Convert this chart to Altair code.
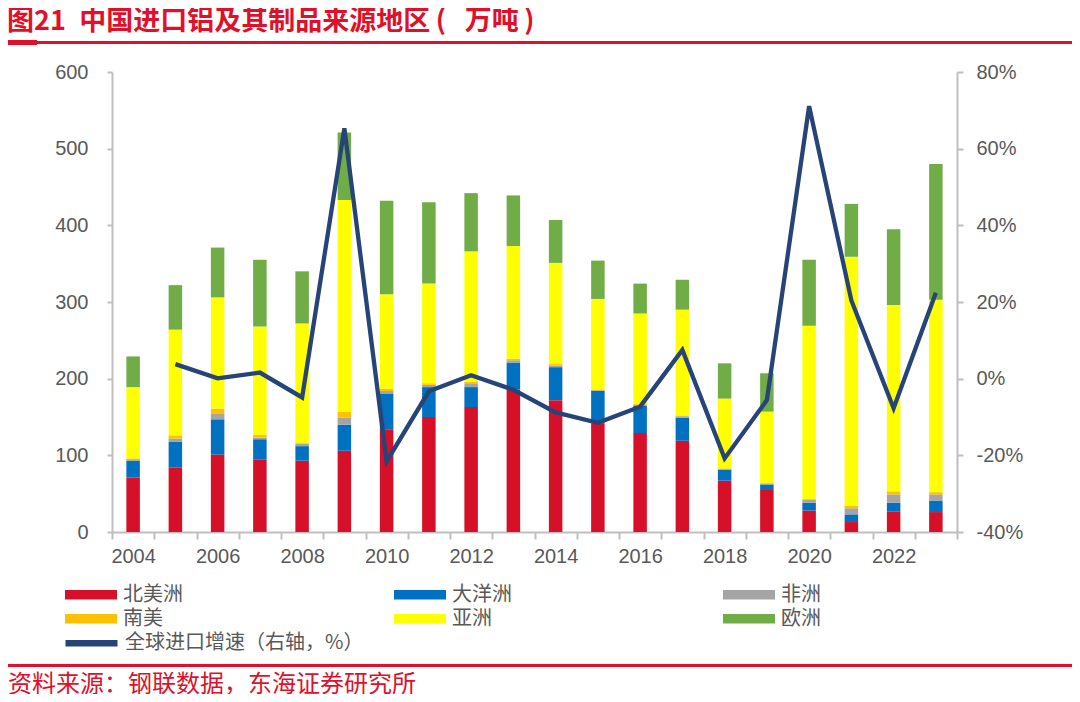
import altair as alt
import pandas as pd

years = list(range(2004, 2024))
regions = ["北美洲", "大洋洲", "非洲", "南美", "亚洲", "欧洲"]
region_colors = ["#D7102A", "#0070C0", "#A5A5A5", "#FFC000", "#FFFF00", "#70AD47"]

north_america = [71, 84, 101, 95, 93, 106, 134, 150, 163, 186, 172, 141, 129, 119, 67, 56, 28, 13, 27, 26]
oceania = [22, 34, 46, 26, 19, 34, 46, 39, 26, 35, 43, 43, 36, 30, 14, 6, 10, 10, 11, 15]
africa = [2, 4, 7, 2, 3, 9, 4, 3, 5, 3, 2, 1, 1, 2, 1, 1, 4, 8, 11, 8]
south_america = [1, 4, 7, 4, 1, 8, 3, 2, 2, 2, 2, 1, 1, 1, 1, 1, 1, 3, 4, 3]
asia = [93, 138, 145, 141, 156, 276, 123, 130, 170, 147, 132, 118, 118, 138, 91, 93, 226, 325, 243, 251]
europe = [40, 58, 65, 87, 68, 88, 122, 106, 76, 66, 56, 50, 39, 39, 46, 50, 86, 69, 99, 177]

growth_years = list(range(2005, 2024))
growth = [3.8, 0.1, 1.6, -4.9, 65.3, -21.6, -3.3, 0.9, -2.9, -8.8, -11.5, -7.3, 7.5, -20.8, -5.6, 71.1, 20.4, -7.7, 22.4]
growth_name = "全球进口增速（右轴，%）"

left_ticks = [0, 100, 200, 300, 400, 500, 600]
right_ticks = [-40, -20, 0, 20, 40, 60, 80]

TITLE = "图21\u2002中国进口铝及其制品来源地区\u2009(\u2002\u2009万吨\u2009)"
SOURCE = "资料来源：钢联数据，东海证券研究所"

series = [north_america, oceania, africa, south_america, asia, europe]
rows = []
for idx, (name, vals) in enumerate(zip(regions, series)):
    for y, v in zip(years, vals):
        rows.append({"year": y, "region": name, "value": v, "idx": idx})
df = pd.DataFrame(rows)
gdf = pd.DataFrame({"year": growth_years, "growth": growth, "s": [growth_name] * len(growth)})

GREY = "#BFBFBF"
LABEL = "#595959"
RED = "#E0102A"
CJK = "Noto Sans CJK SC"

x_enc = alt.X(
    "year:O",
    scale=alt.Scale(domain=years, paddingInner=0, paddingOuter=0),
    axis=alt.Axis(
        title=None, labelAngle=0, tickBand="extent",
        labelExpr="datum.value % 2 == 0 ? datum.label : ''",
        tickSize=7, labelPadding=7,
    ),
)

bars = alt.Chart(df).mark_bar(size=13.5).encode(
    x=x_enc,
    y=alt.Y("value:Q", stack="zero",
            scale=alt.Scale(domain=[0, 600], nice=False),
            axis=alt.Axis(title=None, values=left_ticks, tickSize=5, labelPadding=19)),
    color=alt.Color("region:N",
                    scale=alt.Scale(domain=regions, range=region_colors),
                    legend=alt.Legend(
                        title=None, orient="none", legendX=-47, legendY=512.7,
                        direction="horizontal",
                        columns=3, gridAlign="all", columnPadding=211,
                        symbolType="M-1,-0.18H1V0.18H-1Z", symbolSize=2704,
                        symbolStrokeWidth=0, clipHeight=20, rowPadding=4,
                        labelOffset=6, labelFontSize=20, labelFont=CJK,
                        labelColor=LABEL, padding=0)),
    order=alt.Order("idx:Q", sort="ascending"),
)

line = alt.Chart(gdf).mark_line(strokeWidth=4.3).encode(
    x=x_enc,
    y=alt.Y("growth:Q",
            scale=alt.Scale(domain=[-40, 80], nice=False),
            axis=alt.Axis(title=None, orient="right", values=right_ticks,
                          labelExpr="datum.value + '%'", tickSize=6, labelPadding=13)),
    stroke=alt.Stroke("s:N", scale=alt.Scale(domain=[growth_name], range=["#264478"]),
                      legend=alt.Legend(
                          title=None, orient="none", legendX=-50, legendY=561.3,
                          columns=1, symbolType="stroke", symbolSize=2704,
                          symbolStrokeWidth=6.5, clipHeight=20, labelLimit=500,
                          labelOffset=4, labelFontSize=20, labelFont=CJK,
                          labelColor=LABEL, padding=0)),
)

title_text = alt.Chart(pd.DataFrame({"t": [TITLE]})).mark_text(
    align="left", baseline="middle", fontSize=27, fontWeight="bold", color=RED, font=CJK
).encode(x=alt.value(-105), y=alt.value(-50.5), text="t:N")

source_text = alt.Chart(pd.DataFrame({"t": [SOURCE]})).mark_text(
    align="left", baseline="middle", fontSize=24, color=RED, font=CJK
).encode(x=alt.value(-104), y=alt.value(613), text="t:N")

one = pd.DataFrame({"a": [0]})
top_rule = alt.Chart(one).mark_rule(color=RED, strokeWidth=2.8).encode(
    x=alt.value(-107), x2=alt.value(963), y=alt.value(-29.5))
top_rule_l = alt.Chart(one).mark_rule(color=RED, strokeWidth=5).encode(
    x=alt.value(-107), x2=alt.value(-75), y=alt.value(-29.5))
bot_rule = alt.Chart(one).mark_rule(color=RED, strokeWidth=3).encode(
    x=alt.value(-105), x2=alt.value(965), y=alt.value(593.5))

chart = alt.layer(
    bars, line, title_text, source_text, top_rule, top_rule_l, bot_rule
).resolve_scale(
    y="independent"
).properties(
    width=845, height=460,
    padding={"left": 104, "top": 64, "right": 115, "bottom": 162},
    autosize=alt.AutoSizeParams(type="none"),
).configure_view(
    stroke=None
).configure_axis(
    labelFont="Liberation Sans", labelFontSize=20, labelColor=LABEL,
    domainColor=GREY, tickColor=GREY, domainWidth=2, tickWidth=2, grid=False,
)

chart.save("out.html", embed_options={"renderer": "svg", "actions": False})
